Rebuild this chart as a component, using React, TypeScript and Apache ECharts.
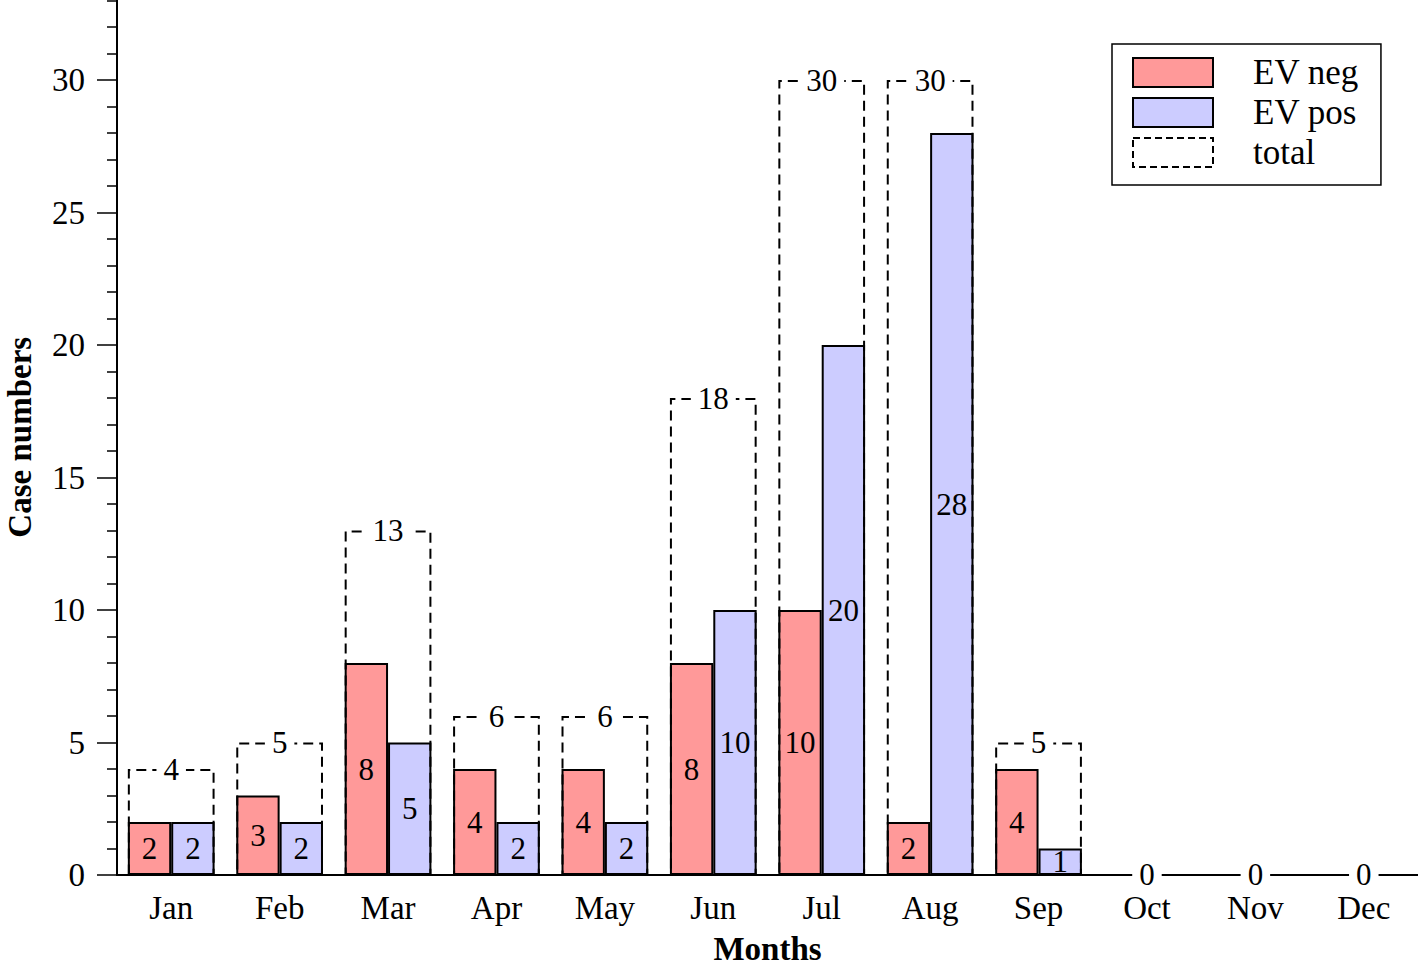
import React, { useEffect, useRef } from "react";
import * as echarts from "echarts";

const months = ["Jan", "Feb", "Mar", "Apr", "May", "Jun", "Jul", "Aug", "Sep", "Oct", "Nov", "Dec"];
const evNeg = [2, 3, 8, 4, 4, 8, 10, 2, 4, 0, 0, 0];
const evPos = [2, 2, 5, 2, 2, 10, 20, 28, 1, 0, 0, 0];
const total = [4, 5, 13, 6, 6, 18, 30, 30, 5, 0, 0, 0];

const FONT = "Liberation Serif";
const RED = "#FF9999";
const BLUE = "#CCCCFF";

export default function App() {
  const ref = useRef<HTMLDivElement>(null);
  useEffect(() => {
    if (!ref.current) return;
    const chart = echarts.init(ref.current, null, { renderer: "svg" });
    const hideZero = (p: any) => (p.value === 0 ? "" : String(p.value));
    chart.setOption({
      animation: false,
      backgroundColor: "#fff",
      textStyle: { fontFamily: FONT, color: "#000" },
      grid: {
        left: 117,
        right: 0,
        top: -52.5,
        bottom: 92,
        containLabel: false,
        outerBoundsMode: "none",
      },
      legend: {
        orient: "vertical",
        left: 1112,
        top: 44,
        padding: [11, 22, 15, 20],
        borderColor: "#000",
        borderWidth: 1.5,
        backgroundColor: "#fff",
        itemWidth: 80,
        itemHeight: 29,
        itemGap: 5,
        align: "left",
        textStyle: { fontFamily: FONT, fontSize: 35, color: "#000", padding: [0, 0, 0, 35] },
        data: [
          { name: "EV neg", icon: "rect", itemStyle: { color: RED, borderColor: "#000", borderWidth: 2 } },
          { name: "EV pos", icon: "rect", itemStyle: { color: BLUE, borderColor: "#000", borderWidth: 2 } },
          {
            name: "total",
            icon: "rect",
            itemStyle: { color: "rgba(0,0,0,0)", borderColor: "#000", borderWidth: 2, borderType: [7, 4] },
          },
        ],
      },
      xAxis: [
        {
          type: "category",
          data: months,
          name: "Months",
          nameLocation: "middle",
          nameGap: 57,
          nameTextStyle: { fontFamily: FONT, fontSize: 33, fontWeight: "bold", color: "#000" },
          axisLine: { lineStyle: { color: "#000", width: 2 } },
          axisTick: { show: false },
          axisLabel: { fontFamily: FONT, fontSize: 33, color: "#000", margin: 16 },
          splitLine: { show: false },
        },
        {
          type: "category",
          data: months,
          show: false,
        },
      ],
      yAxis: {
        type: "value",
        min: 0,
        max: 35,
        interval: 5,
        name: "Case numbers",
        nameLocation: "middle",
        nameGap: 81,
        nameRotate: 90,
        nameTextStyle: {
          fontFamily: FONT,
          fontSize: 33,
          fontWeight: "bold",
          color: "#000",
          padding: [0, 52, 0, 0],
        },
        axisLine: { show: true, lineStyle: { color: "#000", width: 2 } },
        axisTick: { show: true, length: 20, lineStyle: { color: "#000", width: 1.5 } },
        minorTick: { show: true, splitNumber: 5, length: 10, lineStyle: { color: "#000", width: 1.5 } },
        axisLabel: {
          fontFamily: FONT,
          fontSize: 33,
          color: "#000",
          margin: 32,
          formatter: (v: number) => (v > 30 ? "" : String(v)),
        },
        splitLine: { show: false },
        minorSplitLine: { show: false },
      },
      series: [
        {
          name: "EV neg",
          type: "bar",
          data: evNeg,
          barGap: "0%",
          barCategoryGap: "20%",
          itemStyle: { color: RED, borderColor: "#000", borderWidth: 2 },
          label: {
            show: true,
            position: "inside",
            fontFamily: FONT,
            fontSize: 31,
            color: "#000",
            formatter: hideZero,
          },
        },
        {
          name: "EV pos",
          type: "bar",
          data: evPos,
          barGap: "0%",
          barCategoryGap: "20%",
          itemStyle: { color: BLUE, borderColor: "#000", borderWidth: 2 },
          label: {
            show: true,
            position: "inside",
            fontFamily: FONT,
            fontSize: 31,
            color: "#000",
            formatter: hideZero,
          },
        },
        {
          name: "total",
          type: "bar",
          xAxisIndex: 1,
          data: total,
          barCategoryGap: "20%",
          itemStyle: { color: "rgba(0,0,0,0)", borderColor: "#000", borderWidth: 2, borderType: [10, 6] },
          label: {
            show: true,
            position: "top",
            distance: 0,
            verticalAlign: "middle",
            fontFamily: FONT,
            fontSize: 31,
            color: "#000",
            backgroundColor: "#fff",
            padding: [0, 7],
          },
        },
      ],
    });
    return () => chart.dispose();
  }, []);
  return (
    <div
      ref={ref}
      style={{ position: "fixed", left: 0, top: 0, width: 1418, height: 967, background: "#fff" }}
    />
  );
}
